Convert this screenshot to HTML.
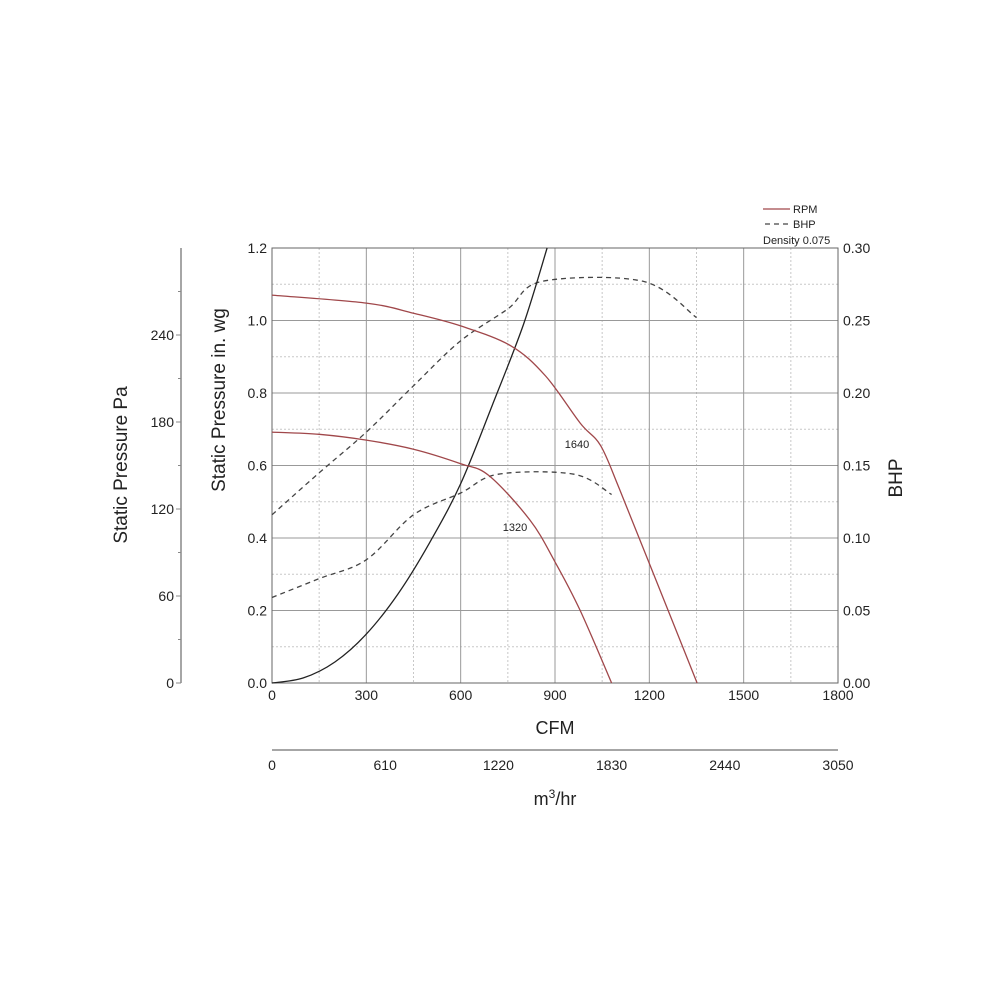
<!DOCTYPE html>
<html><head><meta charset="utf-8"><style>
html,body{margin:0;padding:0;background:#fff;}
svg{display:block;font-family:"Liberation Sans",Arial,sans-serif;}
</style></head><body>
<svg id="c" width="1000" height="1000" viewBox="0 0 1000 1000"></svg>
<script>
const cfmTicks=[0,300,600,900,1200,1500,1800];
const inwgTicks=[0.0,0.2,0.4,0.6,0.8,1.0,1.2];
const bhpTicks=["0.00","0.05","0.10","0.15","0.20","0.25","0.30"];
const paTicks=[0,60,120,180,240];
const m3Ticks=[0,610,1220,1830,2440,3050];
const rpm1640Cfm=[0,300,450,600,760,870,980,1045,1105,1200,1352];
const rpm1640P=[1.07,1.048,1.02,0.985,0.93,0.847,0.717,0.655,0.535,0.33,0];
const rpm1320Cfm=[0,150,300,450,600,690,820,900,980,1080];
const rpm1320P=[0.692,0.686,0.67,0.645,0.605,0.572,0.45,0.334,0.2,0];
const bhp1640Cfm=[0,150,300,450,600,750,860,1180,1350];
const bhp1640V=[0.116,0.145,0.173,0.205,0.236,0.258,0.277,0.277,0.252];
const bhp1320Cfm=[0,150,300,450,600,720,960,1080];
const bhp1320V=[0.059,0.072,0.085,0.116,0.131,0.144,0.144,0.130];
const sysCfm=[0,100,200,300,400,500,600,700,800,875];
const sysP=[0,0.014,0.058,0.135,0.245,0.385,0.55,0.765,0.99,1.2];

const X0=272,X1=838,Y0=683,Y1=248;
const xs=c=>X0+c/1800*(X1-X0);
const ys=p=>Y0-p/1.2*(Y0-Y1);
const yb=b=>Y0-b/0.3*(Y0-Y1);
const ypa=v=>Y0-v/300*(Y0-Y1);
const xm=v=>X0+v/3050*(X1-X0);
const svg=document.getElementById('c');
const NS='http://www.w3.org/2000/svg';
function mk(tag,attrs,parent){const e=document.createElementNS(NS,tag);for(const k in attrs)e.setAttribute(k,attrs[k]);(parent||svg).appendChild(e);return e;}
function txt(x,y,s,size,anchor,name,extra){const t=mk('text',Object.assign({x:x,y:y,'font-size':size,'text-anchor':anchor||'middle',fill:'#222'},extra||{}));t.textContent=s;


return t;}

for(let c=150;c<1800;c+=300){const l=mk('line',{x1:xs(c),x2:xs(c),y1:Y1,y2:Y0,stroke:'#c8c8c8','stroke-dasharray':'2,2'});

}
for(let p=0.1;p<1.2;p+=0.2){const l=mk('line',{x1:X0,x2:X1,y1:ys(p),y2:ys(p),stroke:'#c8c8c8','stroke-dasharray':'2,2'});

}
cfmTicks.forEach(c=>{const l=mk('line',{x1:xs(c),x2:xs(c),y1:Y1,y2:Y0,stroke:'#999','stroke-width':1});


txt(xs(c),Y0+17,String(c),14,'middle','x-tick-label');});
inwgTicks.forEach((p,i)=>{const l=mk('line',{x1:X0,x2:X1,y1:ys(p),y2:ys(p),stroke:'#999','stroke-width':1});


txt(X0-5,ys(p)+5,p.toFixed(1),14,'end','y-tick-label');
txt(X1+5,ys(p)+5,bhpTicks[i],14,'start','bhp-tick-label');});
const fr=mk('rect',{x:X0,y:Y1,width:X1-X0,height:Y0-Y1,fill:'none',stroke:'#666'});



const pa=mk('line',{x1:181,x2:181,y1:Y1,y2:Y0,stroke:'#888','stroke-width':1.5});


for(let v=30;v<300;v+=60){const t=mk('line',{x1:178,x2:181,y1:ypa(v),y2:ypa(v),stroke:'#888'});

}
paTicks.forEach(v=>{const t=mk('line',{x1:176,x2:181,y1:ypa(v),y2:ypa(v),stroke:'#888'});


txt(174,ypa(v)+5,String(v),14,'end','pa-tick-label');});
const ma=mk('line',{x1:X0,x2:X1,y1:750,y2:750,stroke:'#888','stroke-width':1.5});


m3Ticks.forEach(v=>{txt(xm(v),770,String(v),14,'middle','m3hr-tick-label');});

txt(555,734,'CFM',18,'middle','x-axis-title');
const m3=txt(555,805,'m',18,'middle','m3hr-axis-title');
const sup=mk('tspan',{'font-size':12,dy:-7},m3);sup.textContent='3';
const rest=mk('tspan',{dy:7},m3);rest.textContent='/hr';
txt(0,0,'Static Pressure Pa',19,'middle','pa-axis-title',{transform:'translate(127,465) rotate(-90)'});
txt(0,0,'Static Pressure in. wg',19,'middle','y-axis-title',{transform:'translate(225,400) rotate(-90)'});
txt(0,0,'BHP',19,'middle','bhp-axis-title',{transform:'translate(902,478) rotate(-90)'});

function path(xa,ya,fy,name,stroke,dash,smooth){
  const P=xa.map((c,i)=>[xs(c),fy(ya[i])]);
  let d='M'+P[0][0].toFixed(1)+','+P[0][1].toFixed(1);
  for(let i=0;i<P.length-1;i++){
    if(!smooth){d+='L'+P[i+1][0].toFixed(1)+','+P[i+1][1].toFixed(1);continue;}
    const p0=P[i-1]||P[i],p1=P[i],p2=P[i+1],p3=P[i+2]||P[i+1];
    const c1=[p1[0]+(p2[0]-p0[0])/6,p1[1]+(p2[1]-p0[1])/6];
    const c2=[p2[0]-(p3[0]-p1[0])/6,p2[1]-(p3[1]-p1[1])/6];
    d+='C'+c1[0].toFixed(1)+','+c1[1].toFixed(1)+' '+c2[0].toFixed(1)+','+c2[1].toFixed(1)+' '+p2[0].toFixed(1)+','+p2[1].toFixed(1);
  }
  const p=mk('path',{d:d,fill:'none',stroke:stroke,'stroke-width':1.3});if(dash)p.setAttribute('stroke-dasharray',dash);
  
  }
path(bhp1640Cfm,bhp1640V,yb,'bhp-1640-line','#444','5,4',true);
path(bhp1320Cfm,bhp1320V,yb,'bhp-1320-line','#444','5,4',true);
path(sysCfm,sysP,ys,'system-curve','#222',null,true);
path(rpm1640Cfm,rpm1640P,ys,'rpm-1640-line','#a0474a',null,true);
path(rpm1320Cfm,rpm1320P,ys,'rpm-1320-line','#a0474a',null,true);
txt(577,448,'1640',11,'middle','label-1640-halo',{fill:'#fff',stroke:'#fff','stroke-width':3});
txt(577,448,'1640',11,'middle','label-1640');
txt(515,531,'1320',11,'middle','label-1320-halo',{fill:'#fff',stroke:'#fff','stroke-width':3});
txt(515,531,'1320',11,'middle','label-1320');

const l1=mk('line',{x1:763,x2:790,y1:209,y2:209,stroke:'#a0474a','stroke-width':1.3});


txt(793,213,'RPM',11,'start','legend-rpm');
const l2=mk('line',{x1:765,x2:790,y1:224,y2:224,stroke:'#444','stroke-width':1.3,'stroke-dasharray':'5,4'});


txt(793,228,'BHP',11,'start','legend-bhp');
txt(763,244,'Density 0.075',11,'start','density-label');
</script>
</body></html>
